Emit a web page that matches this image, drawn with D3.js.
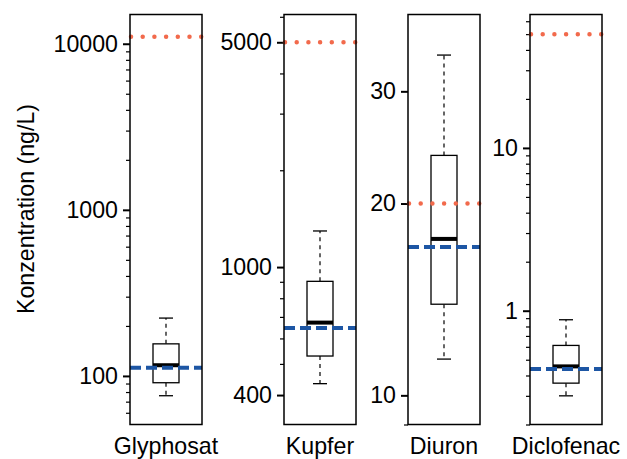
<!DOCTYPE html>
<html>
<head>
<meta charset="utf-8">
<script src="https://cdn.jsdelivr.net/npm/d3@7"></script>
<style>
  body { margin: 0; background: #fff; }
  svg { display: block; font-family: "Liberation Sans", Arial, Helvetica, sans-serif; }
</style>
</head>
<body>
<div id="chart"></div>
<script>
// substances, one panel each
var categories = ["Glyphosat", "Kupfer", "Diuron", "Diclofenac"];

// box statistics (ng/L)
var whiskerLow  = [76, 434, 11.4, 0.30];
var q1          = [91, 529, 13.9, 0.359];
var median      = [116, 672, 17.6, 0.455];
var q3          = [156, 903, 23.8, 0.612];
var whiskerHigh = [223, 1295, 34.2, 0.88];

// reference lines
var blueLine = [112, 647, 17.1, 0.438];
var redLine  = [11000, 5000, 20, 50];

// log axis ranges and labelled ticks
var yDomains   = [[51, 15000], [324, 6100], [9.0, 39.6], [0.2, 66]];
var tickLabels = [[100, 1000, 10000], [400, 1000, 5000], [10, 20, 30], [1, 10]];

var yTitle = "Konzentration (ng/L)";

var width = 627, height = 459;
var panelLeft = [130, 284, 408, 530];
var panelW = 72, panelTop = 14.5, panelBottom = 424.5;
var boxW = 26, stapleW = 14;
var fontSize = 23.2;

var svg = d3.select("#chart").append("svg")
    .attr("width", width)
    .attr("height", height);

svg.append("text")
    .attr("transform", "translate(34," + 209 + ")rotate(-90)")
    .attr("text-anchor", "middle")
    .style("font-size", fontSize + "px")
    .text(yTitle);

function minorTicks(domain) {
    var out = [];
    var k0 = Math.floor(Math.log10(domain[0])), k1 = Math.ceil(Math.log10(domain[1]));
    for (var k = k0; k <= k1; k++) {
        for (var d = 1; d <= 9; d++) {
            var v = +(d * Math.pow(10, k)).toPrecision(6);
            if (v >= domain[0] * 0.999 && v <= domain[1]) out.push(v);
        }
    }
    return out;
}

categories.forEach(function(name, i) {
    var x0 = panelLeft[i];
    var cx = x0 + panelW / 2;
    var y = d3.scaleLog().domain(yDomains[i]).range([panelBottom, panelTop]);
    var g = svg.append("g");

    // minor ticks
    var labs = tickLabels[i];
    var minors = minorTicks(yDomains[i]).filter(function(v) { return labs.indexOf(v) < 0; });
    var minorAxis = g.append("g")
        .attr("transform", "translate(" + x0 + ",0)")
        .call(d3.axisLeft(y).tickValues(minors).tickSize(4).tickFormat(""));
    minorAxis.select(".domain").remove();
    minorAxis.selectAll("line").attr("stroke", "#000").attr("stroke-width", 1.2);

    // labelled ticks
    var majorAxis = g.append("g")
        .attr("transform", "translate(" + x0 + ",0)")
        .call(d3.axisLeft(y).tickValues(labs).tickSize(7).tickPadding(5)
            .tickFormat(function(d) { return String(d); }));
    majorAxis.select(".domain").remove();
    majorAxis.selectAll("line").attr("stroke", "#000").attr("stroke-width", 2);
    majorAxis.selectAll("text")
        .attr("fill", "#000")
        .style("font-size", fontSize + "px")
        .style("font-family", "'Liberation Sans', Arial, sans-serif");

    // whiskers
    g.append("line")
        .attr("x1", cx).attr("x2", cx)
        .attr("y1", y(q3[i])).attr("y2", y(whiskerHigh[i]))
        .attr("stroke", "#000").attr("stroke-width", 1.2).attr("stroke-dasharray", "4,4");
    g.append("line")
        .attr("x1", cx).attr("x2", cx)
        .attr("y1", y(q1[i])).attr("y2", y(whiskerLow[i]))
        .attr("stroke", "#000").attr("stroke-width", 1.2).attr("stroke-dasharray", "4,4");
    [whiskerHigh[i], whiskerLow[i]].forEach(function(v) {
        g.append("line")
            .attr("x1", cx - stapleW / 2).attr("x2", cx + stapleW / 2)
            .attr("y1", y(v)).attr("y2", y(v))
            .attr("stroke", "#000").attr("stroke-width", 1.3);
    });

    // box
    g.append("rect")
        .attr("x", cx - boxW / 2)
        .attr("y", y(q3[i]))
        .attr("width", boxW)
        .attr("height", y(q1[i]) - y(q3[i]))
        .attr("fill", "#fff")
        .attr("stroke", "#000")
        .attr("stroke-width", 1.3);
    g.append("line")
        .attr("x1", cx - boxW / 2).attr("x2", cx + boxW / 2)
        .attr("y1", y(median[i])).attr("y2", y(median[i]))
        .attr("stroke", "#000").attr("stroke-width", 4);

    // reference lines
    g.append("line")
        .attr("x1", x0).attr("x2", x0 + panelW)
        .attr("y1", y(blueLine[i])).attr("y2", y(blueLine[i]))
        .attr("stroke", "#1d56a4").attr("stroke-width", 4)
        .attr("stroke-dasharray", "11,5");
    g.append("line")
        .attr("x1", x0 + 1).attr("x2", x0 + panelW)
        .attr("y1", y(redLine[i])).attr("y2", y(redLine[i]))
        .attr("stroke", "#f26a4c").attr("stroke-width", 4.5)
        .attr("stroke-linecap", "round")
        .attr("stroke-dasharray", "0,11.7");

    // frame
    g.append("rect")
        .attr("x", x0).attr("y", panelTop)
        .attr("width", panelW).attr("height", panelBottom - panelTop)
        .attr("fill", "none")
        .attr("stroke", "#000").attr("stroke-width", 1.5);

    g.append("text")
        .attr("x", cx)
        .attr("y", 454)
        .attr("text-anchor", "middle")
        .style("font-size", fontSize + "px")
        .text(name);
});
</script>
</body>
</html>
